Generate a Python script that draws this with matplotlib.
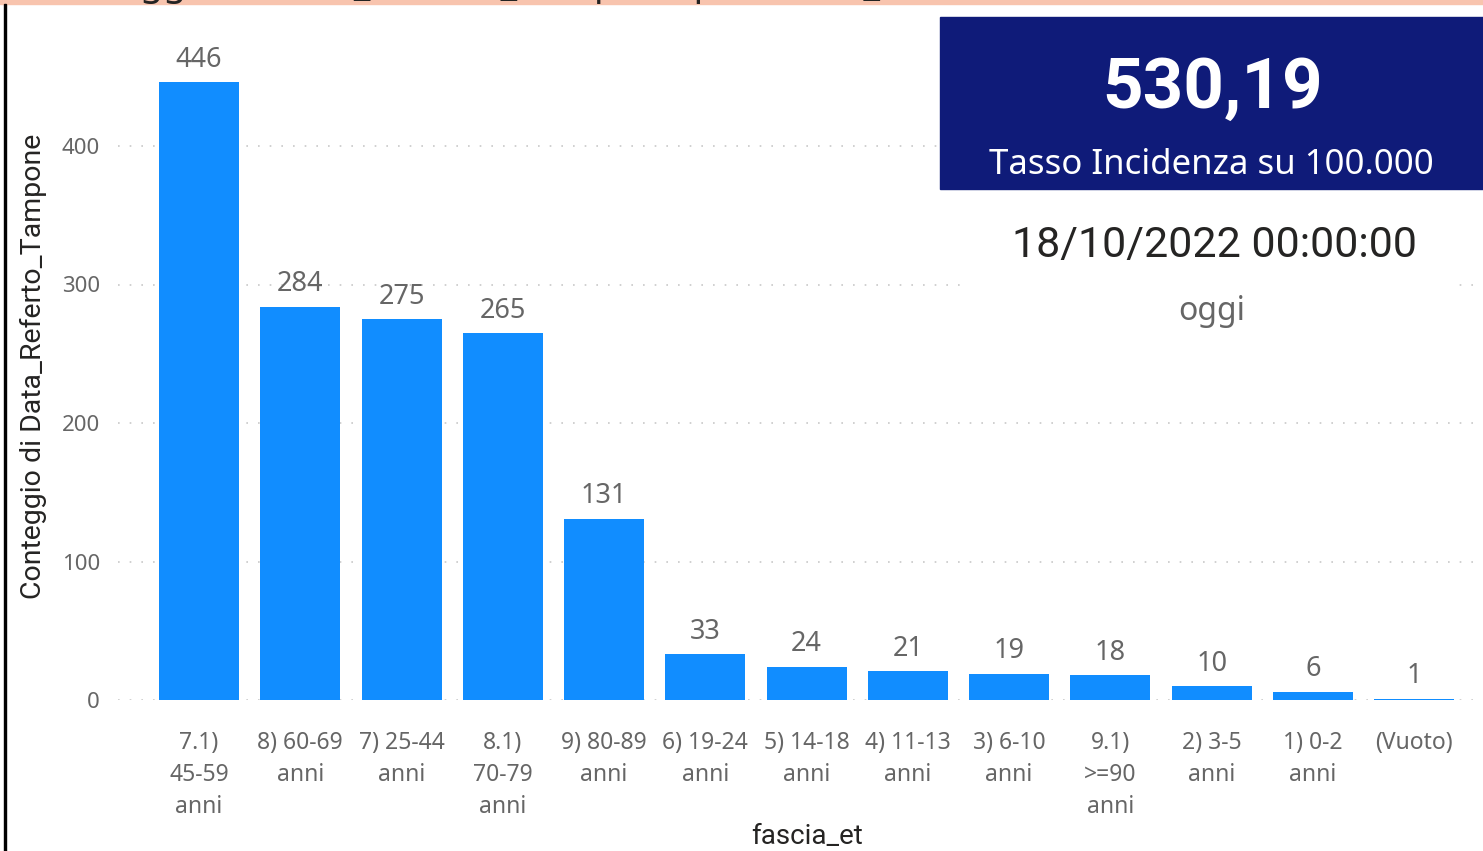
import matplotlib
matplotlib.use("Agg")
import matplotlib.pyplot as plt
from matplotlib.patches import Rectangle

# dati
categorie = [
    "7.1)\n45-59\nanni", "8) 60-69\nanni", "7) 25-44\nanni", "8.1)\n70-79\nanni",
    "9) 80-89\nanni", "6) 19-24\nanni", "5) 14-18\nanni", "4) 11-13\nanni",
    "3) 6-10\nanni", "9.1)\n>=90\nanni", "2) 3-5\nanni", "1) 0-2\nanni", "(Vuoto)",
]
conteggi = [446, 284, 275, 265, 131, 33, 24, 21, 19, 18, 10, 6, 1]
y_ticks = [0, 100, 200, 300, 400]

kpi_valore = "530,19"
kpi_etichetta = "Tasso Incidenza su 100.000"
data_testo = "18/10/2022 00:00:00"
data_etichetta = "oggi"
titolo = "Conteggio di Data_Referto_Tampone per fascia_et"

W, H = 1483, 851
BLU = "#118DFF"
GRIGIO = "#666666"
SCURO = "#252423"
FONT = ["Noto Sans", "DejaVu Sans"]
FONT_COND = ["Roboto", "DejaVu Sans"]

plt.rcParams["font.family"] = FONT

fig = plt.figure(figsize=(W / 100, H / 100), dpi=100)
fig.patch.set_facecolor("white")

# area del grafico in pixel
left, right, bottom, top = 118, 1483, 700, 7.5
ax = fig.add_axes([left / W, 1 - bottom / H, (right - left) / W, (bottom - top) / H])

x = list(range(len(categorie)))
ax.bar(x, conteggi, width=0.79, color=BLU, zorder=2)
ax.set_xlim(-0.8, 12.68)
ax.set_ylim(0, 500)

for xi, v in zip(x, conteggi):
    ax.annotate(str(v), (xi, v), xytext=(0, 6), textcoords="offset points",
                ha="center", va="bottom", fontsize=19.5, color=GRIGIO)

ax.set_yticks(y_ticks)
ax.set_xticks(x)
ax.set_xticklabels(categorie, fontsize=16.5, color=GRIGIO, linespacing=1.46)
ax.tick_params(axis="y", length=0, pad=13, labelsize=16, labelcolor=GRIGIO)
ax.tick_params(axis="x", length=0, pad=22)
ax.grid(axis="y", color="#C8C8C8", linestyle=(0, (1, 6)), linewidth=1.2, zorder=0)
ax.set_axisbelow(True)
for s in ax.spines.values():
    s.set_visible(False)

# overlay in coordinate pixel
ov = fig.add_axes([0, 0, 1, 1], zorder=5)
ov.set_xlim(0, W)
ov.set_ylim(H, 0)
ov.axis("off")
ov.patch.set_alpha(0)

# etichette degli assi
ov.text(33, 366, "Conteggio di Data_Referto_Tampone", rotation=90, ha="center",
        va="center", fontsize=20.5, color=SCURO, family=FONT_COND)
ov.text(807, 836, "fascia_et", ha="center", va="center", fontsize=20,
        color=SCURO, family=FONT_COND)

# fascia del titolo tagliata in alto e bordo sinistro
ov.add_patch(Rectangle((0, 0), W, 3.5, color="#F8C4AE", zorder=1))
ov.text(36, -4.5, titolo, ha="left", va="baseline", fontsize=27, color=SCURO,
        zorder=2, clip_on=False)
ov.add_patch(Rectangle((4, 3.5), 2, H, color="black", zorder=2))

# card data (sotto la card KPI)
ov.add_patch(Rectangle((962, 189), 493, 151, color="white", zorder=1))
ov.text(1214, 246, data_testo, ha="center", va="center", fontsize=31,
        color=SCURO, family=FONT_COND, zorder=3)
ov.text(1212, 311, data_etichetta, ha="center", va="center", fontsize=23,
        color=GRIGIO, zorder=3)

# card KPI
ov.add_patch(Rectangle((940, 17), W - 940, 172, color="#0F1B79", zorder=2))
ov.text(1213, 88, kpi_valore, ha="center", va="center", fontsize=51,
        fontweight="bold", color="white", family=FONT_COND, zorder=3)
ov.text(1211, 165, kpi_etichetta, ha="center", va="center", fontsize=25,
        color="white", zorder=3)

fig.savefig("out.png", dpi=100)
